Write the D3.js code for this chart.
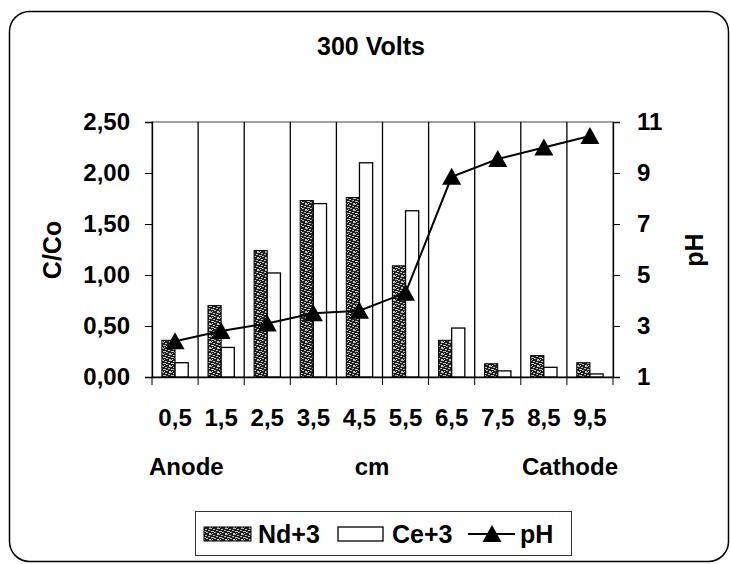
<!DOCTYPE html>
<html><head><meta charset="utf-8">
<script src="https://cdn.jsdelivr.net/npm/d3@7"></script>
<style>body{margin:0;background:#fff}svg{display:block}</style>
</head><body>
<script>
const categories = ["0,5","1,5","2,5","3,5","4,5","5,5","6,5","7,5","8,5","9,5"];
const ndValues = [0.36,0.70,1.24,1.73,1.76,1.09,0.36,0.13,0.21,0.14];
const ceValues = [0.14,0.29,1.02,1.70,2.10,1.63,0.48,0.06,0.095,0.03];
const phValues = [2.4,2.8,3.1,3.5,3.6,4.3,8.85,9.55,10.0,10.45];
const leftTicks = [0,0.5,1,1.5,2,2.5];
const rightTicks = [1,3,5,7,9,11];
const seriesNames = ["Nd+3","Ce+3","pH"];

const W=730,H=564;
const svg=d3.select("body").append("svg").attr("width",W).attr("height",H);
const font="'Liberation Sans', Arial, sans-serif";

// pattern
const defs=svg.append("defs");
const pat=defs.append("pattern").attr("id","ndpat").attr("patternUnits","userSpaceOnUse")
  .attr("width",8).attr("height",6);
pat.append("rect").attr("width",8).attr("height",6).attr("fill","#222");
[[1,0,3,1],[5,1,2,1],[0,2,2,1],[3,3,3,1],[6,4,2,1],[1,5,2,1],[4,5,1,1]].forEach(r=>
  pat.append("rect").attr("x",r[0]).attr("y",r[1]).attr("width",r[2]).attr("height",r[3]).attr("fill","#bdbdbd"));

// outer border
svg.append("rect").attr("x",9.5).attr("y",11.5).attr("width",719).attr("height",550)
  .attr("rx",20).attr("fill","none").attr("stroke","#000").attr("stroke-width",1.5);

const L=152,R=613,T=122,B=377;
const x=d3.scaleBand().domain(categories).range([L,R]).padding(0);
const yL=d3.scaleLinear().domain([0,2.5]).range([B,T]);
const yR=d3.scaleLinear().domain([1,11]).range([B,T]);
const bw=x.bandwidth()/3.5;

// plot border
svg.append("rect").attr("x",L).attr("y",T).attr("width",R-L).attr("height",B-T)
  .attr("fill","none").attr("stroke","#444").attr("stroke-width",1);

// vertical gridlines at category boundaries
const bounds=categories.map(c=>x(c)).concat([R]);
svg.append("g").selectAll("line").data(bounds.slice(1,-1)).join("line")
  .attr("x1",d=>d).attr("x2",d=>d).attr("y1",T).attr("y2",B)
  .attr("stroke","#000").attr("stroke-width",1.3);

// bars
const mid=c=>x(c)+x.bandwidth()/2;
svg.append("g").selectAll("rect").data(categories).join("rect")
  .attr("x",c=>mid(c)-bw).attr("width",bw)
  .attr("y",(c,i)=>yL(ndValues[i])).attr("height",(c,i)=>B-yL(ndValues[i]))
  .attr("fill","url(#ndpat)").attr("stroke","#000").attr("stroke-width",1);
svg.append("g").selectAll("rect").data(categories).join("rect")
  .attr("x",c=>mid(c)).attr("width",bw)
  .attr("y",(c,i)=>yL(ceValues[i])).attr("height",(c,i)=>B-yL(ceValues[i]))
  .attr("fill","#fff").attr("stroke","#000").attr("stroke-width",1.3);

// axes
const fmt=v=>d3.format(".2f")(v).replace(".",",");
const axL=svg.append("g").attr("transform",`translate(${L},0)`)
  .call(d3.axisLeft(yL).tickValues(leftTicks).tickFormat(fmt).tickSize(7).tickPadding(15));
const axR=svg.append("g").attr("transform",`translate(${R},0)`)
  .call(d3.axisRight(yR).tickValues(rightTicks).tickFormat(d3.format("d")).tickSize(7).tickPadding(17));
const axB=svg.append("g").attr("transform",`translate(0,${B})`)
  .call(d3.axisBottom(x).tickValues([]).tickSize(0));
axB.selectAll("line.bt").data(bounds).join("line").attr("class","bt").attr("x1",d=>d).attr("x2",d=>d)
  .attr("y1",0).attr("y2",8).attr("stroke","#000");
axB.selectAll("text.cat").data(categories).join("text").attr("class","cat")
  .attr("x",c=>mid(c)).attr("y",49).attr("text-anchor","middle").text(c=>c);
[axL,axR,axB].forEach(a=>{
  a.selectAll("path.domain").attr("stroke","#000").attr("stroke-width",1.3);
  a.selectAll("line").attr("stroke","#000");
  a.selectAll("text").attr("font-family",font).attr("font-size",24).attr("font-weight","bold").attr("fill","#000");
});

// pH line
const line=d3.line().x((d,i)=>mid(categories[i])).y(d=>yR(d));
svg.append("path").datum(phValues).attr("d",line).attr("fill","none").attr("stroke","#000").attr("stroke-width",2);
const tri="M0,-9L9.5,8L-9.5,8Z";
svg.append("g").selectAll("path").data(phValues).join("path")
  .attr("d",tri).attr("transform",(d,i)=>`translate(${mid(categories[i])},${yR(d)})`).attr("fill","#000");

// texts
const txt=(s,xx,yy,anchor,size,rot)=>{
  const t=svg.append("text").attr("x",xx).attr("y",yy).attr("text-anchor",anchor)
    .attr("font-family",font).attr("font-size",size).attr("font-weight","bold").text(s);
  if(rot) t.attr("transform",`rotate(${rot},${xx},${yy})`);
  return t;
};
txt("300 Volts",371,55,"middle",25);
txt("C/Co",61,250,"middle",25,-90);
txt("pH",703,250,"middle",25,-90);
txt("Anode",149,475,"start",24);
txt("cm",372,475,"middle",24);
txt("Cathode",618,475,"end",24);

// legend
svg.append("rect").attr("x",195.5).attr("y",511.5).attr("width",376).attr("height",44)
  .attr("fill","#fff").attr("stroke","#333").attr("stroke-width",1);
svg.append("rect").attr("x",204).attr("y",527).attr("width",47).attr("height",14)
  .attr("fill","url(#ndpat)").attr("stroke","#000");
txt(seriesNames[0],258,543,"start",25);
svg.append("rect").attr("x",338).attr("y",527).attr("width",45).attr("height",14)
  .attr("fill","#fff").attr("stroke","#000").attr("stroke-width",1.3);
txt(seriesNames[1],392,543,"start",25);
svg.append("line").attr("x1",468).attr("x2",515).attr("y1",534).attr("y2",534).attr("stroke","#000").attr("stroke-width",2);
svg.append("path").attr("d",tri).attr("transform","translate(492,534)").attr("fill","#000");
txt(seriesNames[2],520,543,"start",25);
</script>
</body></html>
